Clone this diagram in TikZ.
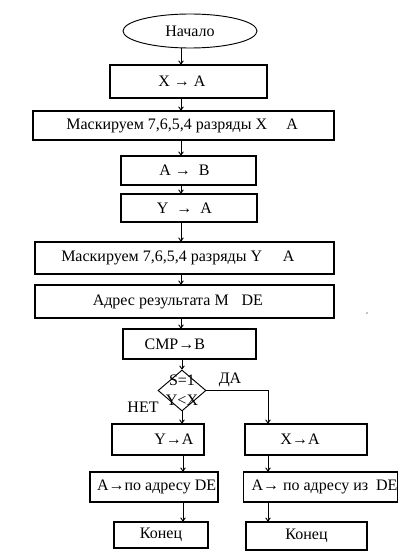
\documentclass[tikz,border=0pt]{standalone}
\usepackage{fontspec}
\setmainfont{Liberation Serif}
\usetikzlibrary{shapes.geometric,arrows.meta}
\begin{document}
\begin{tikzpicture}[x=0.75pt,y=-0.75pt,
  every node/.style={font=\fontsize{12}{14}\selectfont},
  box/.style={draw,line width=0.8pt,rectangle,inner sep=0pt},
  arr/.style={line width=0.7pt,-{To[length=3pt,width=4pt]}},
  ln/.style={line width=0.7pt}]
\useasboundingbox (0,0) rectangle (404,560);
\node[draw,line width=0.7pt,ellipse,minimum width=134*0.75pt,minimum height=34*0.75pt,inner sep=0pt] (st) at (190,31) {Начало};
\node[box,minimum width=157*0.75pt,minimum height=33*0.75pt] (b1) at (188.5,81.5) {X → A\kern10pt};
\node[box,minimum width=301*0.75pt,minimum height=29*0.75pt] (b2) at (183.5,125.5) {Маскируем 7,6,5,4 разряды X\hspace{1.2em}A\kern2pt};
\node[box,minimum width=135*0.75pt,minimum height=29*0.75pt] (b3) at (188.5,170.5) {A → \ B\kern6pt};
\node[box,minimum width=136*0.75pt,minimum height=28*0.75pt] (b4) at (189,208) {Y \ → \ A\kern7pt};
\node[box,minimum width=299*0.75pt,minimum height=32*0.75pt] (b5) at (184.5,258) {Маскируем 7,6,5,4 разряды Y\hspace{1.3em}A\kern10pt};
\node[box,minimum width=299*0.75pt,minimum height=33*0.75pt] (b6) at (184.5,301.5) {Адрес результата M\hspace{0.8em}DE\kern10pt};
\node[box,minimum width=133*0.75pt,minimum height=30*0.75pt] (b7) at (189.5,344) {CMP→B\kern22pt};
\node[draw,line width=0.7pt,diamond,minimum width=48*0.75pt,minimum height=41*0.75pt,inner sep=0pt,
  label={[align=center,inner sep=0pt,font=\fontsize{12}{15}\selectfont]center:S=1\\Y<X}] (d) at (182,390.5) {};
\node (da) at (230,380) {ДА};
\node (net) at (143,407) {НЕТ};
\node[box,minimum width=92*0.75pt,minimum height=31*0.75pt] (b8) at (158,439.5) {\kern24ptY→A};
\node[box,minimum width=122*0.75pt,minimum height=31*0.75pt] (b9) at (306,439.5) {X→A\kern9pt};
\node[box,minimum width=128*0.75pt,minimum height=30*0.75pt] (b10) at (154,487) {\kern4ptA→по адресу DE};
\node[box,minimum width=151*0.75pt,minimum height=30*0.75pt] (b11) at (320.5,487) {\kern6ptA→ по адресу из \ DE};
\node[box,minimum width=94*0.75pt,minimum height=26*0.75pt] (b12) at (161,535) {Конец};
\node[box,minimum width=121*0.75pt,minimum height=28*0.75pt] (b13) at (306.5,536) {Конец};
\fill (367,313) circle (0.6);
\coordinate (c) at (181,0);
\coordinate (cl) at (183,0);
\coordinate (cr) at (268,0);
\draw[arr] (st.south -| c) -- (b1.north -| c);
\draw[arr] (b1.south -| c) -- (b2.north -| c);
\draw[arr] (b2.south -| c) -- (b3.north -| c);
\draw[arr] (b3.south -| c) -- (b4.north -| c);
\draw[arr] (b4.south -| c) -- (b5.north -| c);
\draw[arr] (b5.south -| c) -- (b6.north -| c);
\draw[arr] (b6.south -| c) -- (b7.north -| c);
\draw[arr] (b7.south -| d) -- (d.north);
\draw[arr] (d.south) -- (b8.north -| d);
\draw[arr] (d.east) -- (d.east -| cr) -- (b9.north -| cr);
\draw[arr] (b8.south -| cl) -- (b10.north -| cl);
\draw[arr] (b10.south -| cl) -- (b12.north -| cl);
\draw[arr] (b9.south -| cr) -- (b11.north -| cr);
\draw[arr] (b11.south -| cr) -- (b13.north -| cr);
\end{tikzpicture}
\end{document}
